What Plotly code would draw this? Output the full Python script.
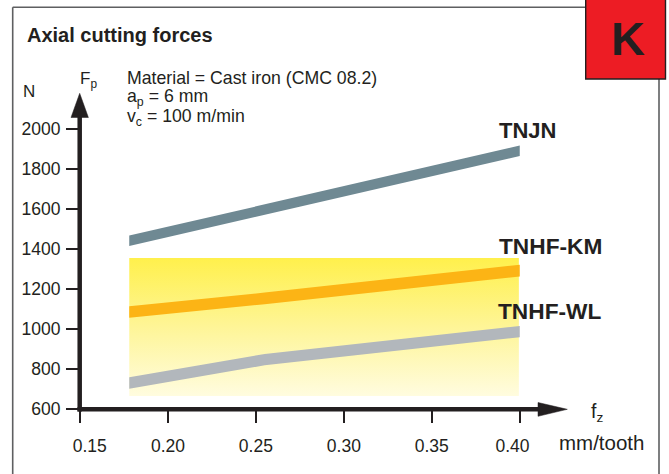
import plotly.graph_objects as go

# ---- data ----
fz = [0.178, 0.255, 0.40]                 # feed per tooth, mm/tooth
tnjn = [1441, 1597, 1891]                 # N
tnhf_km = [1085, 1153, 1292]              # N
tnhf_wl = [730, 847, 987]                 # N
region_fz = [0.178, 0.3995]               # highlighted region (x)
region_force = [665, 1355]                # highlighted region (y)
x_ticks = [0.15, 0.20, 0.25, 0.30, 0.35, 0.40]
x_tick_labels = ["\u00a0\u00a0\u00a0\u00a00.15", "0.20", "0.25", "0.30", "0.35", "0.40\u00a0\u00a0\u00a0"]
y_ticks = [600, 800, 1000, 1200, 1400, 1600, 1800, 2000]
y_tick_labels = ["600", "800", "1000", "1200", "1400", "1600", "1800", "2000"]

series = [
    ("TNJN", tnjn, "#6F8993", 52),
    ("TNHF-KM", tnhf_km, "#FCB415", 58),
    ("TNHF-WL", tnhf_wl, "#B2B7BC", 57),
]

W, H = 669, 474
L, R, T, B = 80, 545, 120, 409  # plot area in pixels
FONT = "Liberation Sans"
INK = "#231F20"


def PX(x):
    return (x - L) / (R - L)


def PY(y):
    return (B - y) / (B - T)


x_range = [0.15, 0.15 + (R - L) / 1759.0]
y_range = [600, 600 + (B - T) * 5.0]

fig = go.Figure()

# highlighted gradient region
fig.add_trace(go.Scatter(
    x=[region_fz[0], region_fz[1], region_fz[1], region_fz[0], region_fz[0]],
    y=[region_force[0], region_force[0], region_force[1], region_force[1], region_force[0]],
    mode="lines", line=dict(width=0), fill="toself",
    fillgradient=dict(type="vertical",
                      colorscale=[[0, "#FFFCDF"], [0.5, "#FEF597"], [1, "#FFF04C"]],
                      start=region_force[0], stop=region_force[1]),
    hoverinfo="skip", showlegend=False))

# thick bands for each series
for name, vals, color, thick in series:
    upper = [v + thick / 2 for v in vals]
    lower = [v - thick / 2 for v in vals]
    fig.add_trace(go.Scatter(
        x=fz + fz[::-1] + [fz[0]],
        y=upper + lower[::-1] + [upper[0]],
        mode="lines", line=dict(width=0, color=color), fill="toself",
        fillcolor=color, name=name, hoverinfo="skip", showlegend=False))

shapes = []
# outer frame
frame = "#5E5F61"
shapes.append(dict(type="line", xref="paper", yref="paper", x0=PX(12.7), x1=PX(586), y0=PY(7.3), y1=PY(7.3),
                   line=dict(color=frame, width=1.6)))
shapes.append(dict(type="line", xref="paper", yref="paper", x0=PX(12.7), x1=PX(12.7), y0=PY(7.3), y1=PY(480),
                   line=dict(color=frame, width=1.6)))
shapes.append(dict(type="line", xref="paper", yref="paper", x0=PX(659), x1=PX(659), y0=PY(79), y1=PY(480),
                   line=dict(color=frame, width=1.6)))
# K box
shapes.append(dict(type="rect", xref="paper", yref="paper", x0=PX(585.7), x1=PX(665.5), y0=PY(-2), y1=PY(79),
                   fillcolor="#ED1C24", line=dict(color=INK, width=1.4)))
# axes with arrows
shapes.append(dict(type="line", xref="paper", yref="paper", x0=PX(79.7), x1=PX(79.7), y0=PY(411.5), y1=PY(117),
                   line=dict(color=INK, width=4.5)))
shapes.append(dict(type="path", xref="paper", yref="paper",
                   path=f"M {PX(71)},{PY(117.5)} L {PX(88.4)},{PY(117.5)} L {PX(79.7)},{PY(93.3)} Z",
                   fillcolor=INK, line=dict(color=INK, width=0.5)))
shapes.append(dict(type="line", xref="paper", yref="paper", x0=PX(77.5), x1=PX(540), y0=PY(409.2), y1=PY(409.2),
                   line=dict(color=INK, width=4.5)))
shapes.append(dict(type="path", xref="paper", yref="paper",
                   path=f"M {PX(538)},{PY(402.5)} L {PX(538)},{PY(416.3)} L {PX(567.3)},{PY(409.3)} Z",
                   fillcolor=INK, line=dict(color=INK, width=0.5)))


def note(text, x, y, size, bold=False, xanchor="left", yanchor="middle", color=INK):
    if bold:
        text = f"<b>{text}</b>"
    return dict(text=text, xref="paper", yref="paper", x=PX(x), y=PY(y), showarrow=False,
                xanchor=xanchor, yanchor=yanchor, font=dict(family=FONT, size=size, color=color),
                borderpad=0)


annotations = [
    note("Axial cutting forces", 26, 35, 20, bold=True),
    note("N", 22, 91.5, 17),
    note("F<sub>p</sub>", 79, 80, 17),
    note("Material = Cast iron (CMC 08.2)", 125.5, 77.5, 17.7),
    note("a<sub>p</sub> = 6 mm", 125.5, 98, 17.7),
    note("v<sub>c</sub> = 100 m/min", 125.5, 118, 17.7),
    note("f<sub>z</sub>", 590, 412, 19.5),
    note("mm/tooth", 558, 442, 20.5),
    note("K", 627.5, 39, 47, bold=True, xanchor="center"),
    note("TNJN", 497.5, 130.5, 22, bold=True),
    note("TNHF-KM", 498, 246, 22.7, bold=True),
    note("TNHF-WL", 497, 311, 22.7, bold=True),
]

fig.update_layout(
    width=W, height=H, autosize=False,
    margin=dict(l=L, r=W - R, t=T, b=H - B, pad=0),
    paper_bgcolor="white", plot_bgcolor="rgba(0,0,0,0)",
    showlegend=False,
    shapes=shapes, annotations=annotations,
    xaxis=dict(range=x_range, tickvals=x_ticks, ticktext=x_tick_labels, ticks="outside",
               ticklen=13, tickwidth=2.4, tickcolor=INK, showgrid=False, zeroline=False,
               showline=False, tickfont=dict(family=FONT, size=17.5, color=INK),
               ticklabelstandoff=8, fixedrange=True),
    yaxis=dict(range=y_range, tickvals=y_ticks, ticktext=y_tick_labels, ticks="outside",
               ticklen=13, tickwidth=2.4, tickcolor=INK, showgrid=False, zeroline=False,
               showline=False, tickfont=dict(family=FONT, size=17.5, color=INK),
               ticklabelstandoff=2, fixedrange=True),
)

fig.write_html("out.html", config={"displayModeBar": False},
               post_script="document.body.style.margin='0';")
